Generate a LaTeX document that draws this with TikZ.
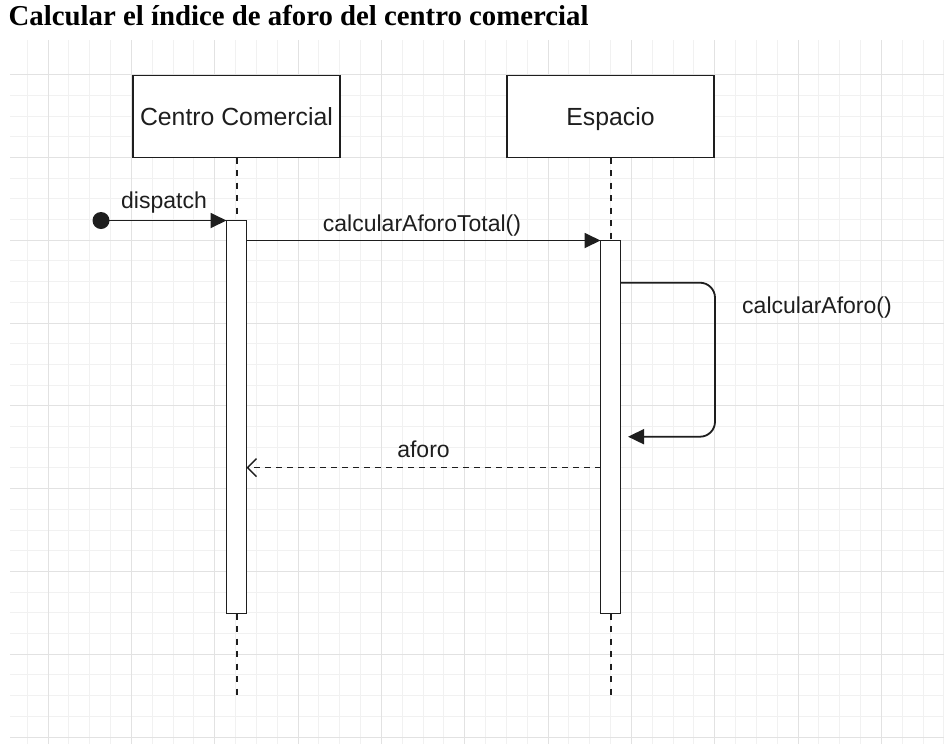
\documentclass[tikz,border=0pt]{standalone}
\usepackage{fontspec}
\setmainfont{Liberation Sans}
\newfontfamily\titleserif{Liberation Serif}
\usetikzlibrary{arrows.meta}
\definecolor{ink}{HTML}{1E1E1E}
\definecolor{gridminor}{HTML}{F1F1F1}
\definecolor{gridmajor}{HTML}{E2E2E2}
\tikzset{
  minorline/.style={draw=gridminor, line width=0.9pt},
  majorline/.style={draw=gridmajor, line width=1pt},
  lifebox/.style={draw=ink, line width=1.8pt, fill=white, minimum width=207pt, minimum height=82pt, inner sep=0pt, outer sep=0pt, text height=17pt, text depth=0pt, font=\fontsize{24.8}{28}\selectfont, text=ink},
  actbar/.style={draw=ink, line width=1.8pt, fill=white, minimum width=20pt, inner sep=0pt, outer sep=0pt},
  lifeline/.style={draw=ink, line width=2pt, dash pattern=on 6pt off 6.5pt},
  msg/.style={draw=ink, line width=1.8pt, -{Triangle[length=16pt,width=15pt]}},
  ret/.style={draw=ink, line width=1.4pt, dash pattern=on 6pt off 5pt, -{Straight Barb[length=9pt,width=18pt,line width=1.4pt]}},
  lbl/.style={anchor=base, inner sep=0pt, font=\fontsize{23}{27}\selectfont, text=ink}
}
\begin{document}
\begin{tikzpicture}[x=1pt,y=-1pt]
\useasboundingbox (0,0) rectangle (944,748);
\fill[white] (0,0) rectangle (944,748);
% grid
\begin{scope}
\clip (10,40) rectangle (944,744);
\foreach \i in {0,...,44} \draw[minorline] ({27.2+20.833*\i},40) -- ({27.2+20.833*\i},744);
\foreach \i in {0,...,32} \draw[minorline] (10,{737-20.7*\i}) -- (944,{737-20.7*\i});
\foreach \i in {0,...,10} \draw[majorline] ({48+83.333*\i},40) -- ({48+83.333*\i},744);
\foreach \i in {0,...,8} \draw[majorline] (10,{737-82.8*\i}) -- (944,{737-82.8*\i});
\end{scope}
% title
\node[anchor=base west, inner sep=0pt, font=\titleserif\bfseries\fontsize{28.8}{34}\selectfont, text=black] (title) at (8.5,25) {Calcular el índice de aforo del centro comercial};
% participants
\node[lifebox] (cc) at (236.5,116.5) {Centro Comercial};
\node[lifebox] (esp) at (610.5,116.5) {Espacio};
% activation bars
\node[actbar, minimum height=393pt] (a1) at (236.5,417) {};
\node[actbar, minimum height=373pt] (a2) at (610.5,427) {};
\coordinate (end1) at (236.5,696);
\coordinate (end2) at (610.5,696);
% lifelines
\draw[lifeline] (cc.south) -- (a1.north);
\draw[lifeline] (esp.south) -- (a2.north);
\draw[lifeline] (a1.south) -- (end1);
\draw[lifeline] (a2.south) -- (end2);
% dispatch
\node[circle, fill=ink, draw=none, minimum size=17pt, inner sep=0pt] (start) at (101,220.5) {};
\draw[msg] (start.center) -- (a1.north west);
\node[lbl] (ldispatch) at (164,208.3) {dispatch};
% calcularAforoTotal
\draw[msg] (a1.east |- a2.north) -- (a2.north west);
\node[lbl] (ltotal) at (422,231.7) {calcularAforoTotal()};
% self call
\coordinate (loopA) at (715,282.7);
\coordinate (loopB) at (715,436.7);
\coordinate (loopEnd) at (628,436.7);
\draw[msg, rounded corners=15pt] (a2.east |- loopA) -- (loopA) -- (loopB) -- (loopEnd);
\node[lbl] (lself) at (817,313.3) {calcularAforo()};
% return
\coordinate (retY) at (0,467.7);
\draw[ret] (a2.west |- retY) -- (a1.east |- retY);
\node[lbl] (lret) at (423.5,457) {aforo};
\end{tikzpicture}
\end{document}
